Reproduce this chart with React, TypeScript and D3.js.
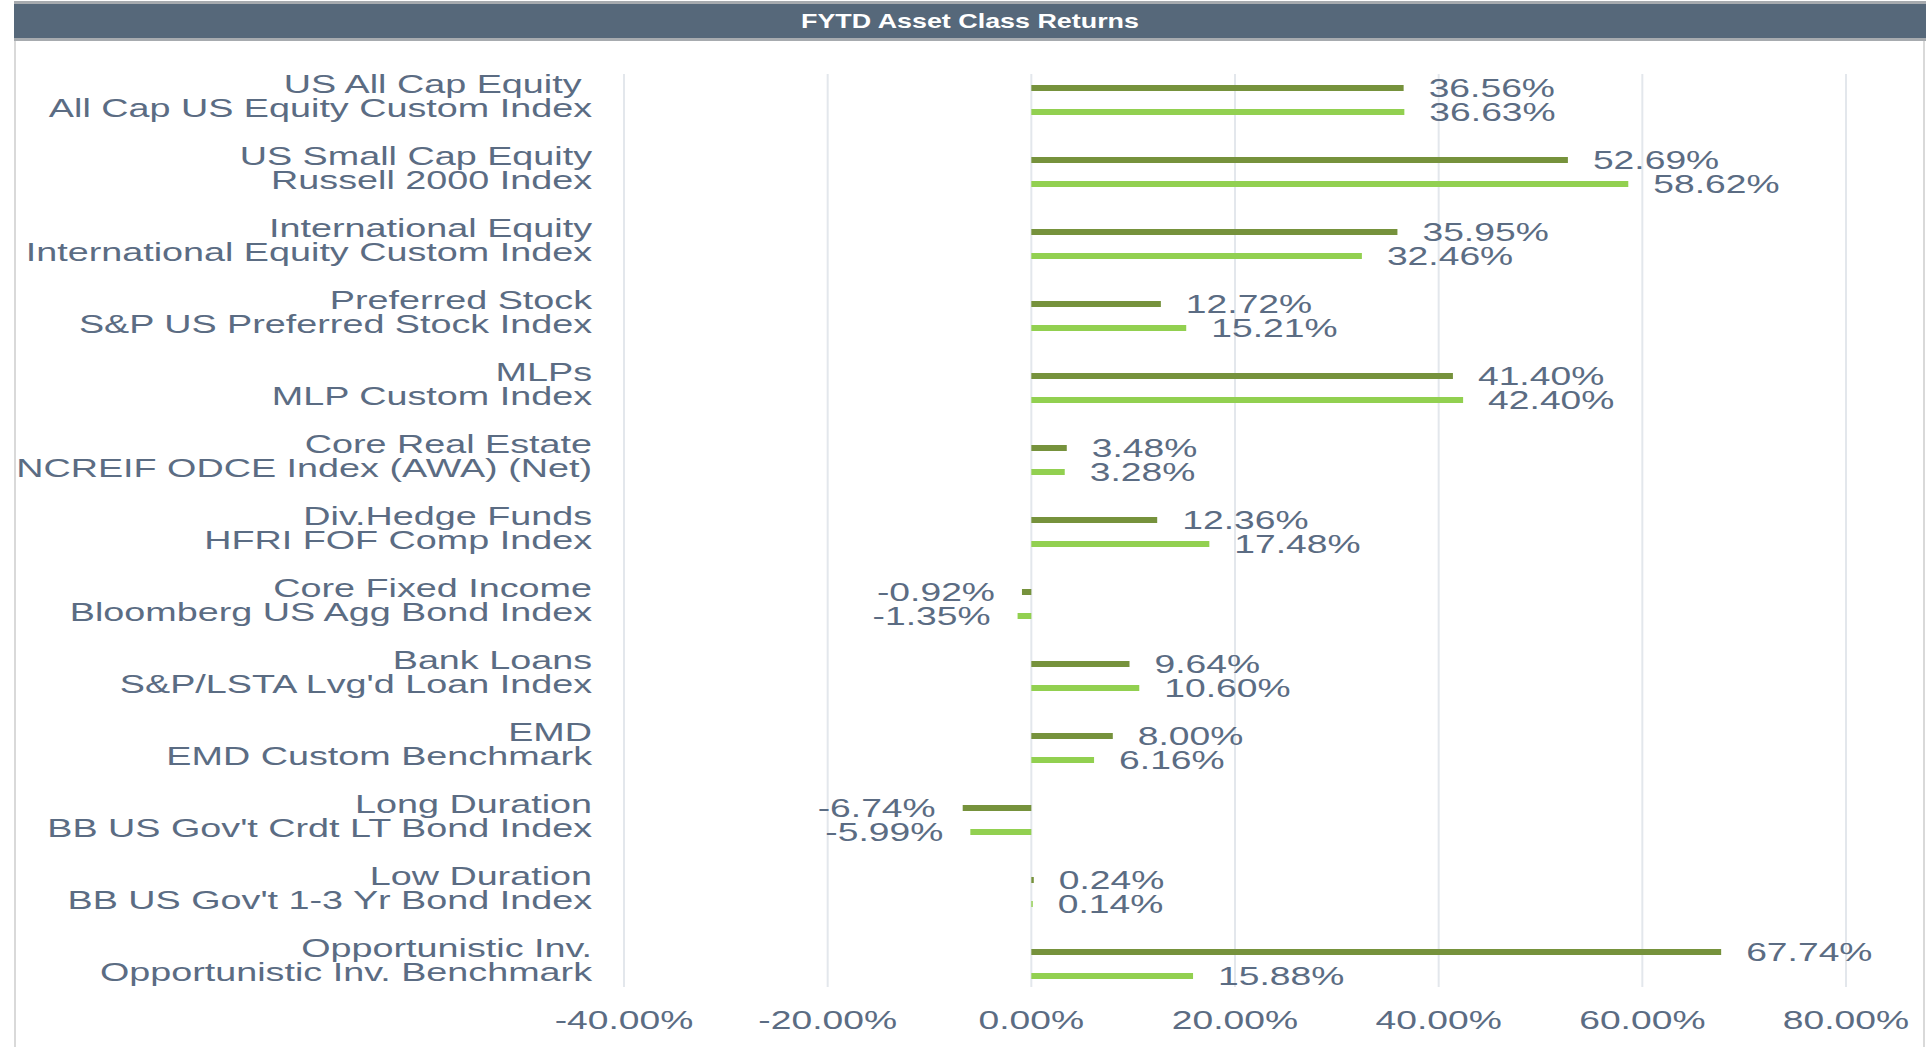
import React from "react";
import * as d3 from "d3";

const assetClasses = [
  "US All Cap Equity ",
  "US Small Cap Equity",
  "International Equity",
  "Preferred Stock",
  "MLPs",
  "Core Real Estate",
  "Div.Hedge Funds",
  "Core Fixed Income",
  "Bank Loans",
  "EMD",
  "Long Duration",
  "Low Duration",
  "Opportunistic Inv.",
];
const benchmarks = [
  "All Cap US Equity Custom Index",
  "Russell 2000 Index",
  "International Equity Custom Index",
  "S&P US Preferred Stock Index",
  "MLP Custom Index",
  "NCREIF ODCE Index (AWA) (Net)",
  "HFRI FOF Comp Index",
  "Bloomberg US Agg Bond Index",
  "S&P/LSTA Lvg'd Loan Index",
  "EMD Custom Benchmark",
  "BB US Gov't Crdt LT Bond Index",
  "BB US Gov't 1-3 Yr Bond Index",
  "Opportunistic Inv. Benchmark",
];
const portfolioReturns = [36.56, 52.69, 35.95, 12.72, 41.4, 3.48, 12.36, -0.92, 9.64, 8.0, -6.74, 0.24, 67.74];
const benchmarkReturns = [36.63, 58.62, 32.46, 15.21, 42.4, 3.28, 17.48, -1.35, 10.6, 6.16, -5.99, 0.14, 15.88];
const xTicks = [-40, -20, 0, 20, 40, 60, 80];

const W = 1927;
const H = 1047;
const TEXT = "#5b6c83";
const DARK = "#76923c";
const LIGHT = "#92d050";
const FONT = "'Liberation Sans', Arial, sans-serif";
const FS = 25;

export default function App() {
  const x = d3.scaleLinear().domain([-40, 80]).range([624, 1846]);
  const y = d3.scaleBand<number>().domain(d3.range(assetClasses.length)).range([64, 1000]);
  const fmt = (v: number) => (v < 0 ? "-" : "") + d3.format(".2f")(Math.abs(v)) + "%";
  const barH = 6;
  const off = 12;

  const stretchText = (
    tx: number,
    ty: number,
    s: string,
    anchor: string,
    key: string,
    sx: number,
    extra: any = {}
  ) => (
    <text
      key={key}
      transform={`translate(${tx},${ty}) scale(${sx},1)`}
      textAnchor={anchor}
      fontFamily={FONT}
      fontSize={FS}
      fill={TEXT}
      {...extra}
    >
      {s}
    </text>
  );

  return (
    <svg
      width={W}
      height={H}
      style={{ position: "absolute", left: 0, top: 0, display: "block", background: "#fff" }}
    >
      {/* frame */}
      <line x1={15} x2={15} y1={38} y2={H} stroke="#d9d9d9" strokeWidth={2} />
      <line x1={1924} x2={1924} y1={38} y2={H} stroke="#d9d9d9" strokeWidth={2} />
      {/* header */}
      <rect x={14} y={1} width={1912} height={40} fill="#a7abaf" />
      <rect x={14} y={4} width={1912} height={34} fill="#56687a" />
      <text
        transform={`translate(970,28) scale(1.28,1)`}
        textAnchor="middle"
        fontFamily={FONT}
        fontWeight="bold"
        fontSize={21}
        fill="#ffffff"
      >
        FYTD Asset Class Returns
      </text>

      {/* gridlines */}
      {xTicks.map((t) => (
        <line key={"g" + t} x1={x(t)} x2={x(t)} y1={74} y2={987} stroke="#e3e7ec" strokeWidth={2} />
      ))}

      {/* bars */}
      {assetClasses.map((_, i) => {
        const c = (y(i) as number) + y.bandwidth() / 2;
        const items = [
          { v: portfolioReturns[i], yy: c - off, col: DARK },
          { v: benchmarkReturns[i], yy: c + off, col: LIGHT },
        ];
        return (
          <g key={"b" + i}>
            {items.map((it, j) => {
              const x0 = x(Math.min(0, it.v));
              const x1 = x(Math.max(0, it.v));
              return (
                <g key={j}>
                  <rect x={x0} y={it.yy - barH / 2} width={Math.max(0.5, x1 - x0)} height={barH} fill={it.col} />
                  {it.v >= 0
                    ? stretchText(x1 + 25, it.yy + 9, fmt(it.v), "start", "l" + j, 1.49)
                    : stretchText(x0 - 27, it.yy + 9, fmt(it.v), "end", "l" + j, 1.49)}
                </g>
              );
            })}
          </g>
        );
      })}

      {/* category labels */}
      {assetClasses.map((a, i) => {
        const c = (y(i) as number) + y.bandwidth() / 2;
        return (
          <g key={"c" + i}>
            {stretchText(592, c - 7.5, a, "end", "a", 1.51, { xmlSpace: "preserve", style: { whiteSpace: "pre" } })}
            {stretchText(592, c + 17, benchmarks[i], "end", "b", 1.51)}
          </g>
        );
      })}

      {/* x tick labels */}
      {xTicks.map((t) => stretchText(x(t), 1029, fmt(t), "middle", "t" + t, 1.49))}
    </svg>
  );
}
